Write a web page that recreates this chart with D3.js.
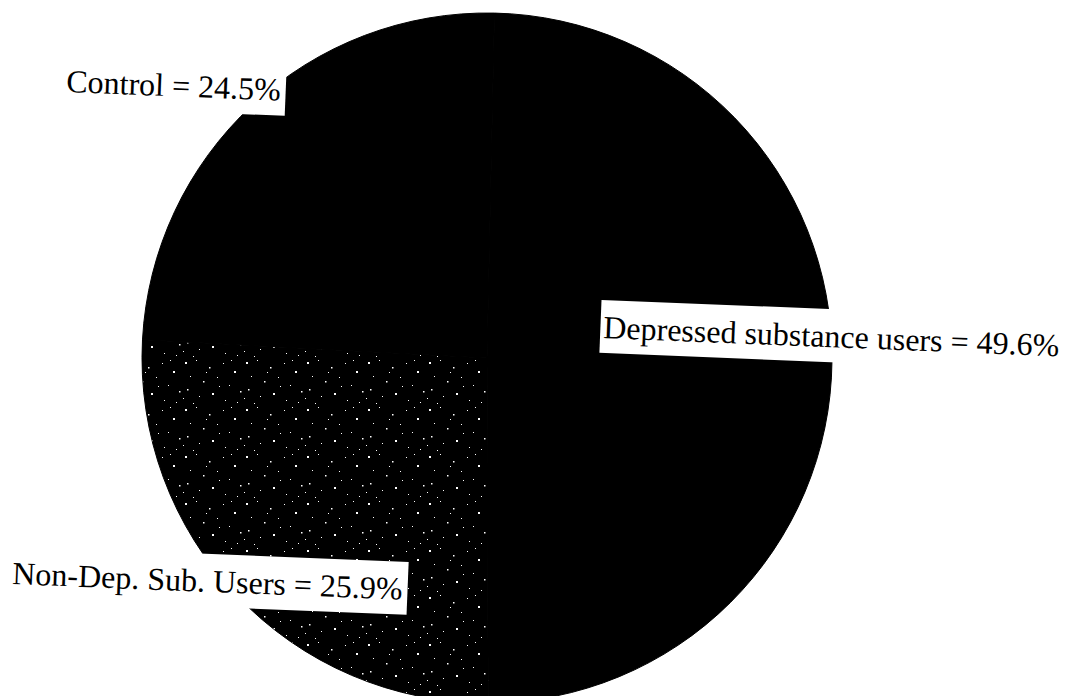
<!DOCTYPE html>
<html>
<head>
<meta charset="utf-8">
<script src="https://cdn.jsdelivr.net/npm/d3@7"></script>
<style>
  body { margin: 0; background: #fff; }
  svg { display: block; }
</style>
</head>
<body>
<script>
/* DATA */
const categories = ['Depressed substance users', 'Non-Dep. Sub. Users', 'Control'];
const values = [49.6, 25.9, 24.5];
const fills = ['#000', 'url(#speckle)', '#000'];

/* LAYOUT */
const width = 1067;
const height = 696;
const center = { x: 487, y: 358 };
const radius = 345;
const tilt = 2.3; // the scan is slightly rotated

// label anchors: start of the text baseline
const labelPos = [
  { x: 603, y: 338 },
  { x: 12, y: 584 },
  { x: 66, y: 92 },
];

const svg = d3
  .select('body')
  .append('svg')
  .attr('width', width)
  .attr('height', height);

// black fill with scattered white specks for the middle slice
const tileW = 61;
const tileH = 47;
const pattern = svg
  .append('defs')
  .append('pattern')
  .attr('id', 'speckle')
  .attr('patternUnits', 'userSpaceOnUse')
  .attr('width', tileW)
  .attr('height', tileH);

pattern.append('rect').attr('width', tileW).attr('height', tileH).attr('fill', '#000');

const specks = [
  [3, 4, 2], [14, 2, 1], [27, 9, 1.5], [41, 5, 1], [52, 13, 2], [8, 18, 1],
  [21, 23, 1.5], [35, 19, 1], [47, 27, 1], [58, 33, 1.5], [5, 31, 1.5],
  [17, 38, 1], [30, 35, 2], [43, 42, 1], [55, 44, 1], [11, 45, 1],
  [37, 28, 1], [24, 14, 1], [49, 2, 1], [1, 40, 1],
];
pattern
  .selectAll('rect.s')
  .data(specks)
  .join('rect')
  .attr('class', 's')
  .attr('x', d => d[0])
  .attr('y', d => d[1])
  .attr('width', d => d[2])
  .attr('height', d => d[2])
  .attr('fill', '#fff');

const start = (1.24 * Math.PI) / 180;

const pie = d3
  .pie()
  .sort(null)
  .startAngle(start)
  .endAngle(start + 2 * Math.PI);

const arc = d3.arc().innerRadius(0).outerRadius(radius);

const group = svg
  .append('g')
  .attr('transform', `translate(${center.x} ${center.y})`);

group
  .selectAll('path')
  .data(pie(values))
  .join('path')
  .attr('d', arc)
  .attr('fill', (d, i) => fills[i])
  .attr('stroke', '#000')
  .attr('stroke-width', 1);

/* LABELS */
const labels = svg
  .selectAll('g.label')
  .data(categories)
  .join('g')
  .attr('class', 'label')
  .attr('transform', (d, i) => `translate(${labelPos[i].x} ${labelPos[i].y}) rotate(${tilt})`);

const boxes = labels.append('rect').attr('fill', '#fff');

const texts = labels
  .append('text')
  .attr('font-family', '"Liberation Serif", "Times New Roman", serif')
  .attr('font-size', 32)
  .attr('fill', '#000')
  .text((d, i) => `${d} = ${values[i]}%`);

texts.each(function (d, i) {
  const w = this.getComputedTextLength();
  d3.select(boxes.nodes()[i])
    .attr('x', -3)
    .attr('y', -38)
    .attr('width', w + 8)
    .attr('height', 53);
});
</script>
</body>
</html>
